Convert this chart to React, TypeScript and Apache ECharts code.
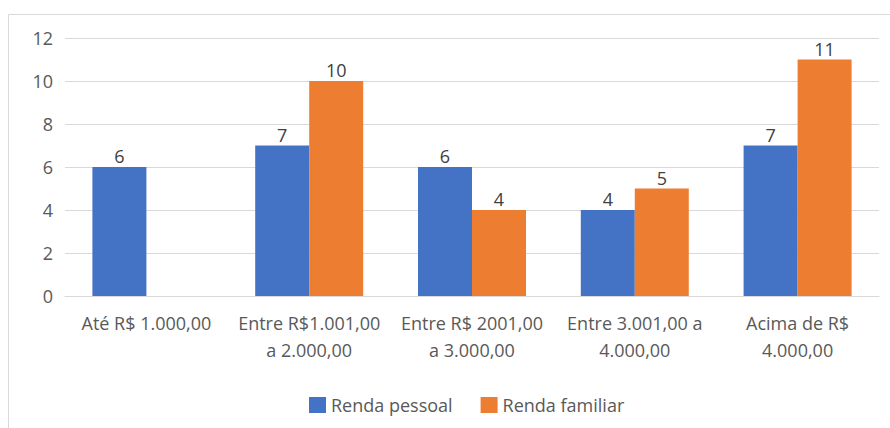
import React, { useEffect, useRef } from "react";
import * as echarts from "echarts";

const categories = [
  "Até R$ 1.000,00",
  "Entre R$1.001,00\na 2.000,00",
  "Entre R$ 2001,00\na 3.000,00",
  "Entre 3.001,00 a\n4.000,00",
  "Acima de R$\n4.000,00",
];
const rendaPessoal = [6, 7, 6, 4, 7];
const rendaFamiliar: (number | null)[] = [null, 10, 4, 5, 11];
const seriesNames = ["Renda pessoal", "Renda familiar"];

const FONT = "'Open Sans', 'Liberation Sans', sans-serif";
const FS = 18;

export default function App() {
  const ref = useRef<HTMLDivElement>(null);
  useEffect(() => {
    if (!ref.current) return;
    const chart = echarts.init(ref.current, null, { renderer: "svg" });
    chart.setOption({
      animation: false,
      backgroundColor: "#ffffff",
      textStyle: { fontFamily: FONT },
      graphic: [
        {
          type: "rect",
          shape: { x: 8.5, y: 14.5, width: 900, height: 440 },
          style: { fill: "none", stroke: "#d9d9d9", lineWidth: 1 },
          silent: true,
        },
      ],
      grid: { left: 65, right: 11, top: 38, bottom: 132 },
      legend: {
        bottom: 14,
        left: 309,
        padding: 0,
        itemWidth: 17,
        itemHeight: 16,
        itemGap: 28,
        icon: "rect",
        textStyle: { color: "#595959", fontSize: FS, fontFamily: FONT },
        data: seriesNames,
      },
      xAxis: {
        type: "category",
        data: categories,
        axisLine: { show: true, lineStyle: { color: "#d9d9d9" } },
        axisTick: { show: false },
        axisLabel: {
          color: "#595959",
          fontSize: FS,
          lineHeight: 27,
          margin: 13,
          interval: 0,
          fontFamily: FONT,
        },
      },
      yAxis: {
        type: "value",
        min: 0,
        max: 12,
        interval: 2,
        axisLine: { show: false },
        axisTick: { show: false },
        splitLine: { lineStyle: { color: "#d9d9d9" } },
        axisLabel: { color: "#595959", fontSize: FS, margin: 12, fontFamily: FONT },
      },
      series: [
        {
          name: seriesNames[0],
          type: "bar",
          data: rendaPessoal,
          barWidth: 54,
          barGap: "0%",
          itemStyle: { color: "#4472c4" },
          label: { show: true, position: "top", color: "#404040", fontSize: FS, distance: 2, fontFamily: FONT },
        },
        {
          name: seriesNames[1],
          type: "bar",
          data: rendaFamiliar,
          barWidth: 54,
          barGap: "0%",
          itemStyle: { color: "#ed7d31" },
          label: { show: true, position: "top", color: "#404040", fontSize: FS, distance: 2, fontFamily: FONT },
        },
      ],
    });
    return () => chart.dispose();
  }, []);
  return (
    <div
      ref={ref}
      style={{ position: "absolute", left: 0, top: 0, width: 890, height: 428 }}
    />
  );
}
